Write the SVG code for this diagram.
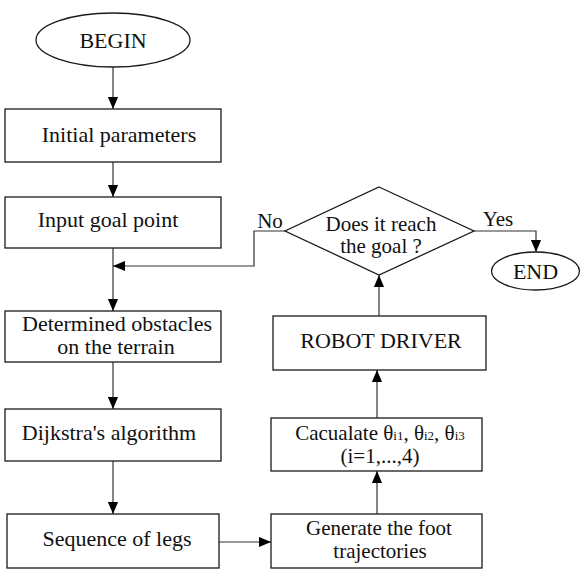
<svg xmlns="http://www.w3.org/2000/svg" width="581" height="571" viewBox="0 0 581 571">
<style>
.n{fill:#fff;stroke:#1a1a1a;stroke-width:1.3}
text{font-family:'Liberation Serif',Tinos,'Times New Roman','DejaVu Serif',serif;font-size:22px;fill:#111;text-anchor:middle}
.s{font-size:21px}
.sub{font-size:13px}
.c{fill:none;stroke:#333;stroke-width:1.2;marker-end:url(#ah)}
</style>
<defs>
<marker id="ah" markerUnits="userSpaceOnUse" markerWidth="12" markerHeight="11" refX="13" refY="5.5" orient="auto" viewBox="0 0 13 11">
<path d="M0,0 L13,5.5 L0,11 z" fill="#000"/>
</marker>
</defs>
<rect width="581" height="571" fill="#fff"/>
<g id="connectors">
<path class="c" d="M113,67 V109"/>
<path class="c" d="M113,162 V197"/>
<path class="c" d="M113,248 V311"/>
<path class="c" d="M113,362 V409"/>
<path class="c" d="M113,461 V514"/>
<path class="c" d="M219,542 H271"/>
<path class="c" d="M377,514 V471"/>
<path class="c" d="M377,418 V370"/>
<path class="c" d="M379,316 V275"/>
<path class="c" d="M474,231 H536 V252"/>
<path class="c" d="M285,231 H254 V266 H113"/>
<text class="s" x="270" y="228" font-family="Liberation Serif">No</text>
<text class="s" x="498" y="226" font-family="Liberation Serif">Yes</text>
</g>
<g id="begin">
<ellipse class="n" cx="113" cy="40" rx="77" ry="27"/>
<text x="113" y="48">BEGIN</text>
</g>
<g id="initial">
<rect class="n" x="5" y="109" width="216" height="53"/>
<text x="119" y="142">Initial parameters</text>
</g>
<g id="input">
<rect class="n" x="5" y="197" width="216" height="51"/>
<text x="108" y="227">Input goal point</text>
</g>
<g id="determined">
<rect class="n" x="5" y="311" width="216" height="51"/>
<text x="117" y="331">Determined obstacles</text>
<text x="116" y="354">on the terrain</text>
</g>
<g id="dijkstra">
<rect class="n" x="5" y="409" width="216" height="52"/>
<text x="109" y="440">Dijkstra's algorithm</text>
</g>
<g id="sequence">
<rect class="n" x="7" y="514" width="212" height="54"/>
<text x="117" y="546">Sequence of legs</text>
</g>
<g id="generate">
<rect class="n" x="271" y="514" width="211" height="54"/>
<text class="s" x="379" y="535">Generate the foot</text>
<text class="s" x="380" y="558">trajectories</text>
</g>
<g id="calculate">
<rect class="n" x="271" y="418" width="211" height="53"/>
<text class="s" x="380" y="440">Cacualate θ<tspan class="sub">i1</tspan>, θ<tspan class="sub">i2</tspan>,  θ<tspan class="sub">i3</tspan></text>
<text class="s" x="380" y="463">(i=1,...,4)</text>
</g>
<g id="robot">
<rect class="n" x="273" y="316" width="213" height="54"/>
<text x="381" y="348">ROBOT DRIVER</text>
</g>
<g id="decision">
<polygon class="n" points="379,187 474,231 379,275 285,231"/>
<text class="s" x="381" y="231">Does it reach</text>
<text class="s" x="381" y="253">the goal ?</text>
</g>
<g id="end">
<ellipse class="n" cx="535.5" cy="271" rx="44" ry="19"/>
<text x="535.5" y="279">END</text>
</g>
</svg>
